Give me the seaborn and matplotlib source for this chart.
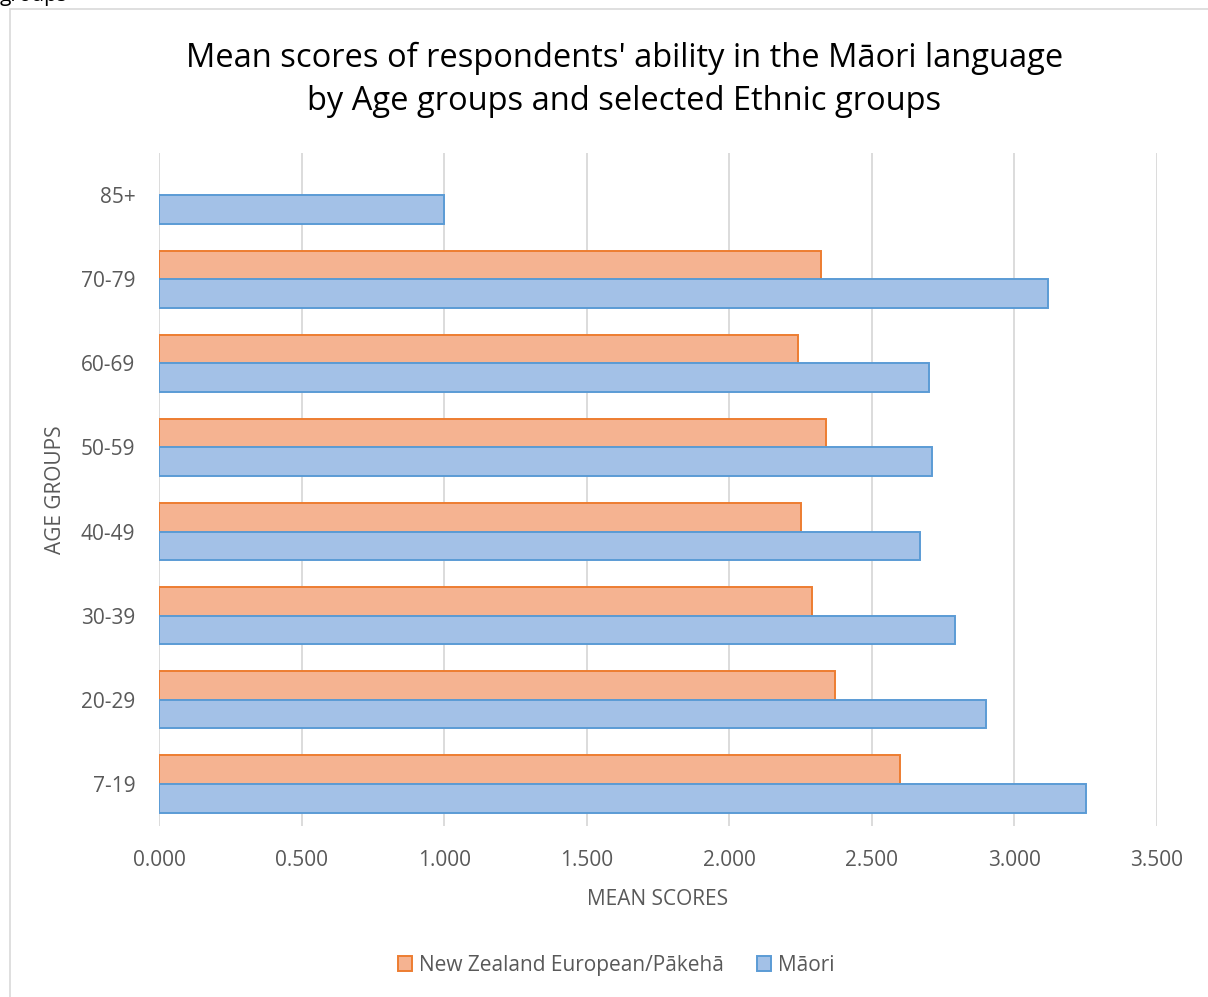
import matplotlib
matplotlib.use("Agg")
import matplotlib.pyplot as plt
import matplotlib.patches as mpatches
import numpy as np
import pandas as pd
import seaborn as sns

# ---- data ----
age_groups = ["85+", "70-79", "60-69", "50-59", "40-49", "30-39", "20-29", "7-19"]
series_names = ["New Zealand European/Pākehā", "Māori"]
nze_scores = [np.nan, 2.322, 2.241, 2.339, 2.252, 2.290, 2.371, 2.600]
maori_scores = [1.000, 3.118, 2.701, 2.711, 2.669, 2.792, 2.901, 3.251]
x_ticks = [0.0, 0.5, 1.0, 1.5, 2.0, 2.5, 3.0, 3.5]

df = pd.DataFrame({
    "age": age_groups * 2,
    "group": [series_names[0]] * len(age_groups) + [series_names[1]] * len(age_groups),
    "score": nze_scores + maori_scores,
})

fills = {series_names[0]: "#f5b391", series_names[1]: "#a3c1e7"}
edges = {series_names[0]: "#ed7d31", series_names[1]: "#5b9bd5"}

sns.set_theme(style="white")
plt.rcParams["font.family"] = ["Open Sans", "DejaVu Sans"]

fig = plt.figure(figsize=(12.08, 9.97), dpi=100)
ax = fig.add_axes([159 / 1208, 1 - 826 / 997, (1157 - 159) / 1208, (826 - 153) / 997])

sns.barplot(data=df, y="age", x="score", hue="group", order=age_groups,
            hue_order=series_names, palette=fills, saturation=1, width=0.68, orient="h",
            ax=ax, legend=False, zorder=3)

for cont, name in zip(ax.containers, series_names):
    for bar in cont:
        bar.set_edgecolor(edges[name])
        bar.set_linewidth(1.4)
        bar.set_zorder(3)

ax.set_xlim(0, 3.5)
ax.set_ylim(len(age_groups) - 0.5, -0.5)
ax.set_xticks(x_ticks)
ax.set_xticklabels([f"{v:.3f}" for v in x_ticks])
ax.grid(axis="x", color="#d9d9d9", linewidth=1.3, zorder=0)
ax.grid(axis="y", visible=False)
for s in ax.spines.values():
    s.set_visible(False)
ax.tick_params(axis="both", length=0, colors="#595959", labelsize=15)
ax.tick_params(axis="x", pad=17)
ax.tick_params(axis="y", pad=17)

ax.set_xlabel("MEAN SCORES", fontsize=15, color="#595959", labelpad=13)
ax.set_ylabel("AGE GROUPS", fontsize=15, color="#595959", labelpad=11)

fig.text(0.517, 1 - 80 / 997,
         "Mean scores of respondents' ability in the Māori language\nby Age groups and selected Ethnic groups",
         ha="center", va="center", fontsize=23.5, color="#000000", linespacing=1.38)

# chart frame
fig.patches.append(mpatches.Rectangle((10 / 1208, -0.01), 1.02, 1 - 9 / 997 + 0.01,
                                      transform=fig.transFigure, fill=False,
                                      edgecolor="#d9d9d9", linewidth=1.2))
fig.text(0.0, 1 - 1 / 997, "groups", ha="left", va="baseline", fontsize=15, color="#000000")

handles = [mpatches.Patch(facecolor=fills[n], edgecolor=edges[n], linewidth=1.4, label=n)
           for n in series_names]
fig.legend(handles=handles, loc="center", bbox_to_anchor=(616 / 1208, 1 - 965 / 997), ncol=2,
           frameon=False, fontsize=15, labelcolor="#595959", handlelength=0.7,
           handleheight=0.7, handletextpad=0.3, columnspacing=1.6)

fig.savefig("out.png", dpi=100)
